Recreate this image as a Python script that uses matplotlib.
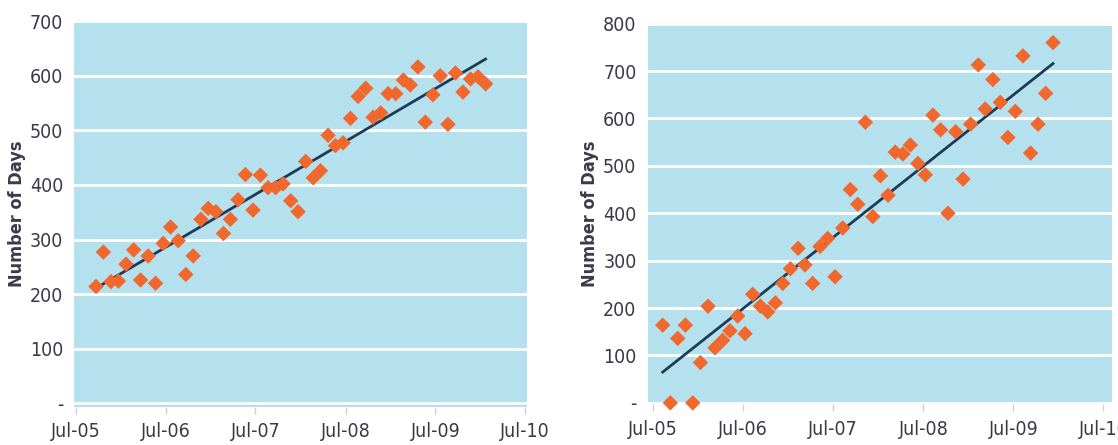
import numpy as np
import pandas as pd
import matplotlib
matplotlib.use("Agg")
import matplotlib.pyplot as plt
import matplotlib.dates as mdates
from matplotlib import font_manager

# narrow face if one is around, otherwise DejaVu
names = {f.name for f in font_manager.fontManager.ttflist}
narrow = [n for n in ['Liberation Sans Narrow', 'DejaVu Sans Condensed'] if n in names]
plt.rcParams['font.family'] = narrow + ['DejaVu Sans']
plt.rcParams['font.stretch'] = 'condensed'

# left panel: monthly values, Sep-05 .. Jan-10
left_start = '2005-09-21'
left_days = [214, 277, 223, 224, 255, 281, 226, 270, 220, 293,
             323, 298, 236, 270, 337, 357, 351, 311, 337, 373,
             419, 354, 418, 395, 395, 402, 371, 351, 443, 413,
             426, 491, 472, 477, 522, 562, 577, 524, 532, 567,
             567, 592, 583, 616, 515, 565, 600, 511, 605, 570,
             594, 598, 585]

# right panel: monthly values, Aug-05 .. Dec-09
right_start = '2005-08-09'
right_days = [164, 0, 136, 164, 0, 85, 204, 116, 132, 152,
              183, 146, 229, 204, 192, 211, 252, 283, 326, 291,
              252, 330, 347, 266, 369, 450, 419, 592, 393, 479,
              438, 529, 525, 544, 505, 481, 607, 576, 400, 572,
              472, 588, 713, 620, 682, 634, 560, 615, 732, 527,
              588, 653, 760]

tick_dates = ['2005-07-01', '2006-07-01', '2007-07-01', '2008-07-01',
              '2009-07-01', '2010-07-01']
tick_labels = ['Jul-05', 'Jul-06', 'Jul-07', 'Jul-08', 'Jul-09', 'Jul-10']

bg = '#b4e1ed'
orange = '#f0682d'
navy = '#1d3b57'
txt = '#3b3a48'


def month_dates(start, n):
    first = pd.Timestamp(start)
    return [first + pd.DateOffset(months=i) for i in range(n)]


def panel(ax, start, vals, ylim, yticks, xpad):
    d = month_dates(start, len(vals))
    x = mdates.date2num(d)
    ax.set_facecolor(bg)
    for s in ax.spines.values():
        s.set_visible(False)
    ax.grid(axis='y', color='white', linewidth=2)
    ax.set_axisbelow(True)
    coef = np.polyfit(x, vals, 1)
    ax.plot([x[0], x[-1]], np.polyval(coef, [x[0], x[-1]]), color=navy, lw=2, zorder=2)
    ax.scatter(x, vals, marker='D', s=62, color=orange, edgecolors='none',
               zorder=3, clip_on=False)
    tx = mdates.date2num(pd.to_datetime(tick_dates))
    ax.set_xticks(tx)
    ax.set_xticklabels(tick_labels)
    ax.set_xlim(tx[0] - xpad[0], tx[-1] + xpad[1])
    ax.set_ylim(*ylim)
    ax.set_yticks(yticks)
    ax.set_yticklabels(['-'] + [str(v) for v in yticks[1:]])
    ax.tick_params(axis='x', length=5, width=1, color='#d0d0d0', labelsize=14,
                   labelcolor=txt, pad=6)
    ax.tick_params(axis='y', length=0, labelsize=14, labelcolor=txt, pad=8)
    ax.set_ylabel('Number of Days', fontsize=13, fontweight='bold', color=txt, labelpad=3)


fig = plt.figure(figsize=(11.18, 4.45), dpi=100)
ax1 = fig.add_axes([0.0665, 0.0861, 0.4046, 0.869])
ax2 = fig.add_axes([0.5793, 0.0915, 0.4153, 0.8575])

panel(ax1, left_start, left_days, (-6, 702), list(range(0, 701, 100)), (6, 6))
panel(ax2, right_start, right_days, (-3, 802), list(range(0, 801, 100)), (22, 35))

fig.savefig('out.png', dpi=100)
